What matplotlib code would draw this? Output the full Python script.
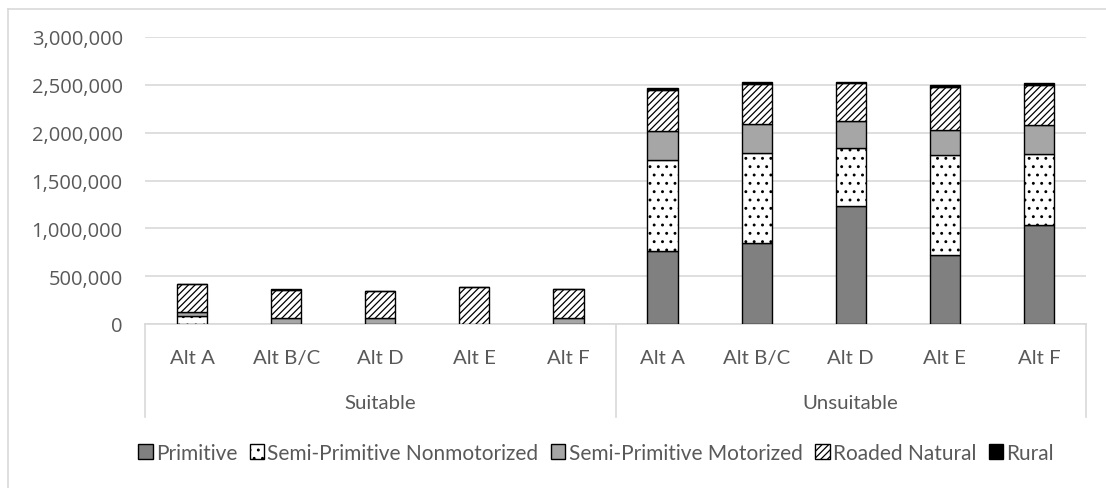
import matplotlib
import numpy as np
import matplotlib.pyplot as plt
from matplotlib.lines import Line2D
from matplotlib.patches import Patch

matplotlib.use("Agg")

plt.rcParams['font.family'] = ['Lato', 'DejaVu Sans']
plt.rcParams['hatch.linewidth'] = 0.9

groups = ["Suitable", "Unsuitable"]
alts = ["Alt A", "Alt B/C", "Alt D", "Alt E", "Alt F"]
series = ["Primitive", "Semi-Primitive Nonmotorized", "Semi-Primitive Motorized",
          "Roaded Natural", "Rural"]

# values per category: Suitable A..F, then Unsuitable A..F
primitive = [0, 0, 0, 0, 0,
             758000, 849000, 1229000, 726000, 1037000]
semi_nonmotorized = [80000, 0, 0, 0, 0,
                     961000, 943000, 612000, 1045000, 744000]
semi_motorized = [48000, 60000, 60000, 5000, 60000,
                  297000, 300000, 279000, 252000, 304000]
roaded_natural = [288000, 298000, 287000, 378000, 308000,
                  427000, 420000, 395000, 456000, 412000]
rural = [3000, 3000, 3000, 3000, 3000,
         20000, 15000, 18000, 18000, 18000]

values = [primitive, semi_nonmotorized, semi_motorized, roaded_natural, rural]
faces = ["#808080", "white", "#A6A6A6", "white", "black"]
hatches = [None, "..", None, "/////", None]

txt = "#595959"
grid = "#D9D9D9"

fig = plt.figure(figsize=(11.06, 4.89), dpi=100)
W, H = 1106, 489
x0, x1, y0, y1 = 145, 1086, 38, 325
ax = fig.add_axes([x0 / W, 1 - y1 / H, (x1 - x0) / W, (y1 - y0) / H])

x = np.arange(len(groups) * len(alts))
bottom = np.zeros(len(x))
for name, vals, fc, h in zip(series, values, faces, hatches):
    ax.bar(x, vals, 0.32, bottom=bottom, color=fc, edgecolor="black",
           linewidth=1.0, hatch=h, label=name, zorder=3)
    bottom += np.array(vals)

ax.set_xlim(-0.5, len(x) - 0.5)
ax.set_ylim(0, 3000000)
ax.set_yticks(np.arange(0, 3000001, 500000))
ax.set_yticklabels([f"{v:,}" for v in range(0, 3000001, 500000)],
                   color=txt, fontsize=14.5, family="Open Sans")
ax.tick_params(axis="y", length=0, pad=16)
ax.tick_params(axis="x", length=0, labelbottom=False)
ax.yaxis.grid(True, color=grid, linewidth=1.2, zorder=0)
for s in ["top", "right", "left"]:
    ax.spines[s].set_visible(False)
ax.spines["bottom"].set_color(grid)
ax.spines["bottom"].set_linewidth(1.2)

# multi-level category axis
tr = ax.get_xaxis_transform()
for i in range(len(x)):
    ax.text(x[i], -0.115, alts[i % len(alts)], transform=tr, ha="center",
            va="center", color=txt, fontsize=14.7)
for g, name in enumerate(groups):
    ax.text(g * len(alts) + (len(alts) - 1) / 2, -0.275, name, transform=tr,
            ha="center", va="center", color=txt, fontsize=14.7)
for xs in [-0.5, len(alts) - 0.5, len(x) - 0.5]:
    ax.add_line(Line2D([xs, xs], [0, -0.324], transform=tr, color=grid,
                       linewidth=1.2, clip_on=False))

handles = [Patch(facecolor=fc, edgecolor="black", hatch=h, linewidth=1.0)
           for fc, h in zip(faces, hatches)]
leg = fig.legend(handles, series, loc="center", bbox_to_anchor=(596 / W, 1 - 454 / H),
                 ncol=5, frameon=False, fontsize=15, handlelength=0.7,
                 handleheight=0.7, handletextpad=0.15, columnspacing=0.6)
for t in leg.get_texts():
    t.set_color(txt)

# chart area border (left and top visible)
fig.add_artist(Line2D([8 / W, 8 / W], [0, 1 - 10 / H], color=grid, linewidth=1.2))
fig.add_artist(Line2D([8 / W, 1], [1 - 10 / H, 1 - 10 / H], color=grid, linewidth=1.2))

fig.savefig("out.png", dpi=100)
plt.close()
